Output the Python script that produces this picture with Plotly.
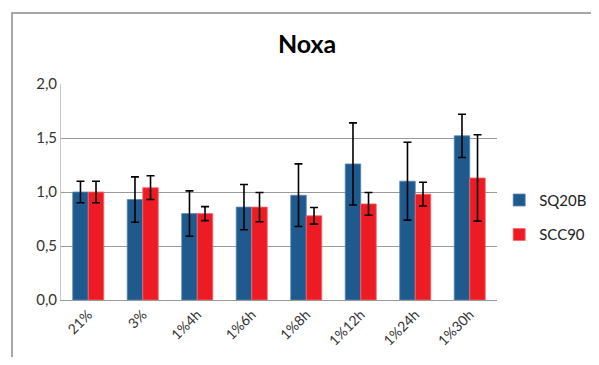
import plotly.graph_objects as go

categories = ["21%", "3%", "1%4h", "1%6h", "1%8h", "1%12h", "1%24h", "1%30h"]
sq20b = [1.00, 0.93, 0.80, 0.86, 0.97, 1.26, 1.10, 1.52]
sq20b_err = [0.10, 0.21, 0.21, 0.21, 0.29, 0.38, 0.36, 0.20]
scc90 = [1.00, 1.04, 0.80, 0.86, 0.78, 0.89, 0.98, 1.13]
scc90_err = [0.10, 0.11, 0.065, 0.135, 0.077, 0.105, 0.11, 0.40]
y_ticks = [0.0, 0.5, 1.0, 1.5, 2.0]

FONT = "Lato"
fig = go.Figure()
fig.add_trace(go.Bar(
    x=categories, y=sq20b, name="SQ20B", legendgroup="a",
    marker=dict(color="#1F5A8F", line=dict(color="#5B86AE", width=0.8)),
    error_y=dict(type="data", array=sq20b_err, color="black", thickness=1.6, width=4),
))
fig.add_trace(go.Bar(
    x=categories, y=scc90, name="SCC90", legendgroup="b",
    marker=dict(color="#ED1C24", line=dict(color="#F26A6F", width=0.8)),
    error_y=dict(type="data", array=scc90_err, color="black", thickness=1.6, width=4),
))

fig.update_layout(
    width=583, height=349,
    margin=dict(l=53, r=94, t=76, b=57, autoexpand=False),
    paper_bgcolor="white", plot_bgcolor="white",
    separators=",.",
    barmode="group", bargap=0.43, bargroupgap=0,
    title=dict(text="<b>Noxa</b>", x=0.513, xanchor="center", y=0.895, yanchor="middle",
               font=dict(family=FONT, size=25, color="black")),
    font=dict(family=FONT, size=13, color="#333333"),
    showlegend=True,
    legend=dict(x=1.005, y=0.383, xanchor="left", yanchor="middle",
                font=dict(family=FONT, size=15, color="#222222"),
                tracegroupgap=12, itemwidth=30, bgcolor="rgba(0,0,0,0)"),
    xaxis=dict(tickangle=-45, showline=True, linecolor="#999999", linewidth=1,
               ticks="", showgrid=False, automargin=False,
               tickfont=dict(size=14, color="#333333")),
    yaxis=dict(range=[0, 2.0], tickvals=y_ticks, tickformat=".1f", automargin=False,
               showgrid=True, gridcolor="#9a9a9a", gridwidth=1,
               showline=True, linecolor="#c8c8c8", linewidth=1, zeroline=False,
               ticks="", ticklen=0, tickfont=dict(size=15, color="#333333")),
    shapes=[dict(type="rect", xref="paper", yref="paper",
                 x0=-0.1124, x1=1.218, y0=-0.40, y1=1.3287,
                 line=dict(color="#8a8a8a", width=1.5), layer="below")],
)

fig.write_html("out.html")
